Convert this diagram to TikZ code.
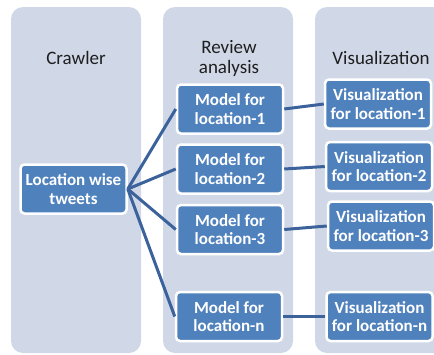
\documentclass[tikz,border=0pt]{standalone}
\usepackage{fontspec}
\setmainfont{Carlito}
\usetikzlibrary{positioning}
\definecolor{laneFill}{RGB}{208,216,232}
\definecolor{boxFill}{RGB}{79,129,189}
\definecolor{linkBlue}{RGB}{60,98,155}
\definecolor{titleGray}{RGB}{30,30,30}
\tikzset{
    lane/.style={fill=laneFill, rounded corners=12pt},
    heading/.style={font=\fontsize{19}{20}\selectfont, text=titleGray, align=center, inner sep=0pt},
    stage/.style={rectangle, rounded corners=4pt, draw=white, line width=2.5pt,
                  fill=boxFill, text=white, align=center, inner sep=1pt,
                  font=\bfseries\fontsize{17}{18.5}\selectfont,
                  minimum width=106pt, minimum height=49pt},
    link/.style={line width=3pt, color=linkBlue}
}

\begin{document}
\begin{tikzpicture}[x=1pt, y=-1pt]
    \clip (0,0) rectangle (434,354);
    \useasboundingbox (0,0) rectangle (434,354);

    % Lanes
    \fill[lane] (11,7) rectangle (141,353);
    \fill[lane] (163,7) rectangle (293,353);
    \fill[lane] (315,7) rectangle (460,353);

    % Lane headings
    \node[heading] (hCrawl) at (76,58) {Crawler};
    \node[heading] (hReview) at (229,58) {Review\\analysis};
    \node[heading] (hVis) at (381,58) {Visualization};

    % Crawler output
    \node[stage] (tweets) at (73.5,189) {Location wise\\tweets};

    % Models
    \node[stage] (model1) at (230,109) {Model for\\location-1};
    \node[stage] (model2) at (230,169) {Model for\\location-2};
    \node[stage] (model3) at (230,229.5) {Model for\\location-3};
    \node[stage] (modeln) at (229,316.5) {Model for\\location-n};

    % Visualizations
    \node[stage] (vis1) at (378,104) {Visualization\\for location-1};
    \node[stage] (vis2) at (379,166.5) {Visualization\\for location-2};
    \node[stage] (vis3) at (381,226) {Visualization\\for location-3};
    \node[stage] (visn) at (379.5,316.5) {Visualization\\for location-n};

    % Links
    \foreach \m in {1,2,3,n} {
        \draw[link] (tweets.east) -- (model\m.west);
        \draw[link] (model\m.east) -- (vis\m.west);
    }
\end{tikzpicture}
\end{document}
